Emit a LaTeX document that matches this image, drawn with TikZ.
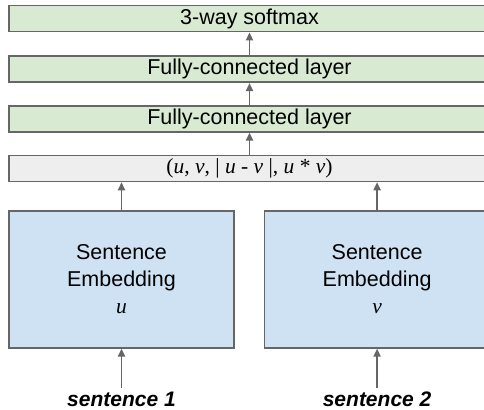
\documentclass[tikz,border=0pt]{standalone}
\usepackage{fontspec}
\setmainfont{Liberation Sans}
\newfontfamily\serifit{Liberation Serif}
\usetikzlibrary{positioning,arrows.meta}
\definecolor{fcgreen}{HTML}{D9EAD3}
\definecolor{catgray}{HTML}{EEEEEE}
\definecolor{embblue}{HTML}{CFE2F3}
\definecolor{edgegray}{HTML}{666666}
\newcommand{\vr}[1]{{\serifit\itshape #1}}
\tikzset{
	%Define standard arrow tip
	>={Triangle[length=4pt,width=3.6pt]},
	%Define style for bars
	layer/.style={
		rectangle,
		draw=edgegray, line width=0.8pt,
		fill=fcgreen,
		minimum width=240.5pt,
		minimum height=13pt,
		inner sep=0pt,
		font=\fontsize{10.75}{13}\selectfont},
	concat/.style={layer, fill=catgray,
		font=\serifit\fontsize{10.75}{13}\selectfont},
	% Define style for embedding boxes
	embbox/.style={
		rectangle,
		draw=edgegray, line width=0.8pt,
		fill=embblue,
		minimum width=112.5pt,
		minimum height=68.5pt,
		align=center,
		font=\fontsize{10.75}{13.5}\selectfont},
	sent/.style={font=\bfseries\itshape\fontsize{10.5}{12}\selectfont, inner sep=2pt},
	% Define arrow style
	pil/.style={
		->,
		line width=0.8pt,
		draw=edgegray}
}
\begin{document}
\begin{tikzpicture}
	\useasboundingbox (0,0) rectangle (242pt,-205pt);
	\coordinate (base) at (0,-203.3pt);
	\node[concat] (cat) at (124.75pt,-84.25pt) {(\textit{u}, \textit{v}, | \textit{u} - \textit{v} |, \textit{u} * \textit{v})};
	\node[layer,above=11pt of cat] (fc1) {Fully-connected layer};
	\node[layer,above=11pt of fc1] (fc2) {Fully-connected layer};
	\node[layer,above=11.5pt of fc2] (soft) {3-way softmax};
	\node[embbox] (embu) at (60.75pt,-139.7pt) {Sentence\\Embedding\\\vr{u}};
	\node[embbox,right=14.5pt of embu] (embv) {Sentence\\Embedding\\\vr{v}};
	\node[sent,anchor=base] (s1) at (embu |- base) {sentence 1};
	\node[sent,anchor=base] (s2) at (embv |- base) {sentence 2};
	\draw[pil] (cat) -- (fc1);
	\draw[pil] (fc1) -- (fc2);
	\draw[pil] (fc2) -- (soft);
	\draw[pil] (embu) -- (embu |- cat.south);
	\draw[pil] (embv) -- (embv |- cat.south);
	\draw[pil] (s1) -- (embu);
	\draw[pil] (s2) -- (embv);
\end{tikzpicture}
\end{document}
